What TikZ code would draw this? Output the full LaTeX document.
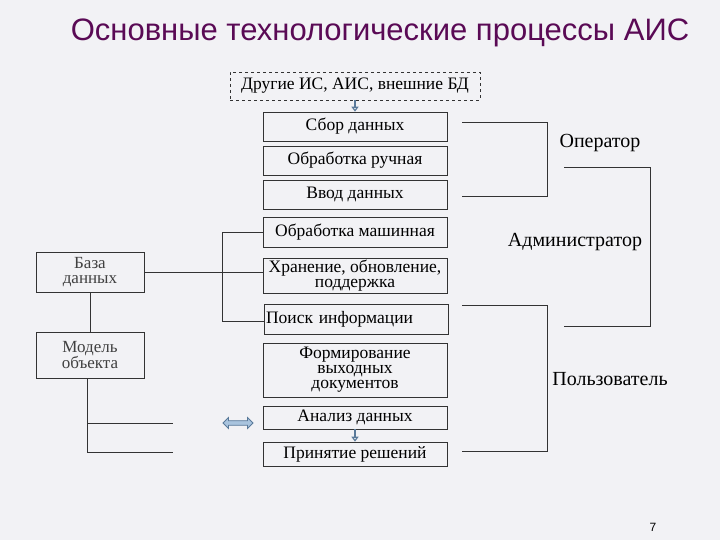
\documentclass[tikz,border=0pt]{standalone}
\usepackage{fontspec}
\setmainfont{Liberation Serif}
\newfontfamily\titlefont{Liberation Sans}
\usetikzlibrary{arrows.meta,shapes.arrows}
\definecolor{bg}{HTML}{F2F2F5}
\definecolor{ttl}{HTML}{5A0A55}
\definecolor{arr}{HTML}{A9C4DE}
\definecolor{arrd}{HTML}{5A7A9A}
\begin{document}
\begin{tikzpicture}[x=1pt,y=-1pt,
  proc/.style={draw=black!80,line width=0.6pt,font=\fontsize{17.5}{15}\selectfont,align=center,inner sep=1pt},
  side/.style={draw=black!80,line width=0.6pt,font=\fontsize{17}{15}\selectfont\color{black!75},align=center,inner sep=1pt},
  ln/.style={draw=black!80,line width=0.6pt},
  role/.style={font=\fontsize{20}{22}\selectfont},
  harrow/.style={-{Triangle[open,length=5pt,width=7pt]},draw=arrd,line width=1.2pt}]
\fill[bg] (0,0) rectangle (720,540);
\useasboundingbox (0,0) rectangle (720,540);
\node[font=\titlefont\fontsize{31}{34}\selectfont,text=ttl] (title) at (380,33) {Основные технологические процессы АИС};
\node[proc,dashed,minimum width=250,minimum height=28] (oth) at (355,86) {Другие ИС, АИС, внешние БД};
\node[proc,minimum width=184,minimum height=29] (sbor) at (355,126.5) {Сбор данных};
\node[proc,minimum width=184,minimum height=29] (ruch) at (355,160.5) {Обработка ручная};
\node[proc,minimum width=184,minimum height=29] (vvod) at (355,194.5) {Ввод данных};
\node[proc,minimum width=184,minimum height=30] (mash) at (355,232) {Обработка машинная};
\node[proc,minimum width=184,minimum height=35] (hran) at (355,275.5) {Хранение, обновление,\\поддержка};
\node[proc,minimum width=184,minimum height=30,text width=180,align=left] (poisk) at (356,319) {Поиск информации};
\node[proc,minimum width=184,minimum height=54,text width=150] (form) at (355,370) {Формирование\\выходных\\документов};
\node[proc,minimum width=184,minimum height=23] (anal) at (355,417.5) {Анализ данных};
\node[proc,minimum width=184,minimum height=24] (prin) at (355,454) {Принятие решений};
\node[side,minimum width=108,minimum height=40] (baza) at (90,272) {База\\данных};
\node[side,minimum width=108,minimum height=46] (model) at (90,355) {Модель\\объекта};
\draw[harrow] (oth.south) -- (sbor.north);
\draw[harrow] (anal.south) -- (prin.north);
\node[double arrow,draw=arrd,fill=arr,line width=0.8pt,minimum width=11pt,minimum height=30pt,double arrow head extend=2pt,inner sep=1pt] (dbl) at (238,423) {};
% left lines
\coordinate (vtop) at (222,232);
\coordinate (vbot) at (222,321);
\draw[ln] (mash.west) -- (vtop) -- (vbot) -- (vbot -| poisk.west);
\draw[ln] (baza.east) -- (baza.east -| hran.west);
\draw[ln] (baza.south) -- (model.north);
\coordinate (mb) at (87,452);
\coordinate (m1) at (87,423);
\coordinate (e1) at (173,423);
\coordinate (e2) at (173,452);
\draw[ln] (model.south -| mb) -- (mb) -- (e2);
\draw[ln] (m1) -- (e1);
% right brackets
\coordinate (o1) at (462,122); \coordinate (o2) at (547,122);
\coordinate (o3) at (547,196); \coordinate (o4) at (462,196);
\draw[ln] (o1) -- (o2) -- (o3) -- (o4);
\coordinate (a1) at (564,167); \coordinate (a2) at (650,167);
\coordinate (a3) at (650,326); \coordinate (a4) at (564,326);
\draw[ln] (a1) -- (a2) -- (a3) -- (a4);
\coordinate (u1) at (462,305); \coordinate (u2) at (547,305);
\coordinate (u3) at (547,451); \coordinate (u4) at (462,451);
\draw[ln] (u1) -- (u2) -- (u3) -- (u4);
\node[role] (oper) at (600,143) {Оператор};
\node[role] (adm) at (575,242) {Администратор};
\node[role] (pol) at (610,379) {Пользователь};
\node[font=\titlefont\fontsize{12}{12}\selectfont] (pg) at (653,527) {7};
\end{tikzpicture}
\end{document}
